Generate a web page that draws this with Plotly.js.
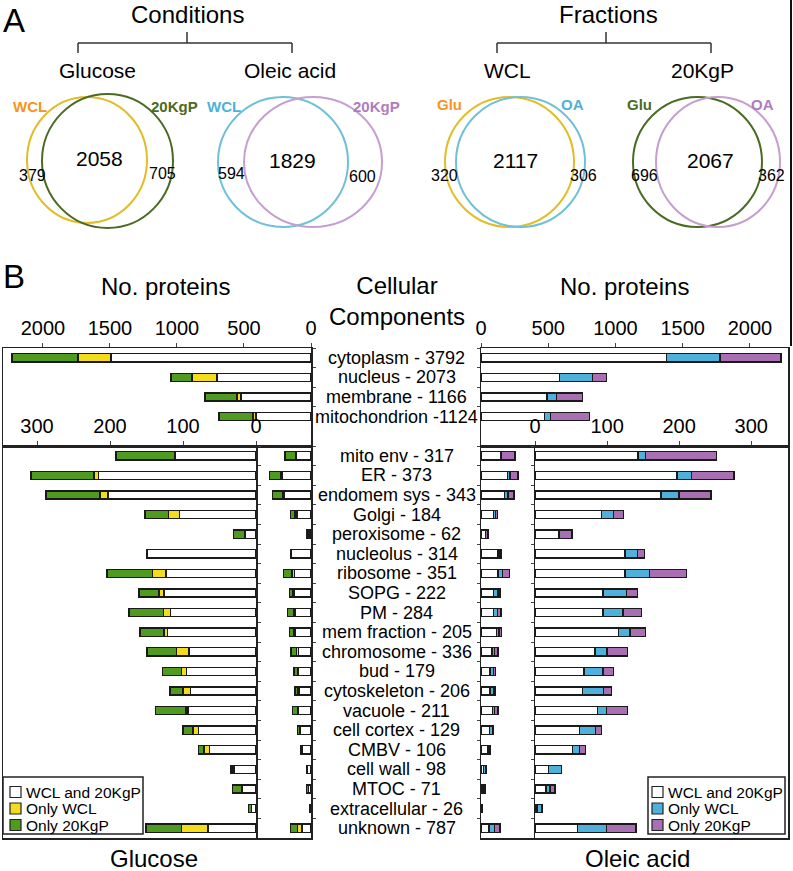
<!DOCTYPE html>
<html><head><meta charset="utf-8">
<script src="https://cdn.plot.ly/plotly-3.0.1.min.js"></script>
<style>html,body{margin:0;padding:0;background:#fff;overflow:hidden}#chart{width:793px;height:871px}</style>
</head><body><div id="chart"></div>
<script>
// ---------- data ----------
const vennTitles = ['Glucose', 'Oleic acid', 'WCL', '20KgP'];
const vennSetA = ['WCL', 'WCL', 'Glu', 'Glu'];
const vennSetB = ['20KgP', '20KgP', 'OA', 'OA'];
const vennBoth = [2058, 1829, 2117, 2067];
const vennOnlyA = [379, 594, 320, 696];
const vennOnlyB = [705, 600, 306, 362];

const topCats = ['cytoplasm - 3792', 'nucleus - 2073', 'membrane - 1166', 'mitochondrion -1124'];
const glcTopBoth = [1493, 702, 522, 410];
const glcTopWCL = [246, 187, 30, 22];
const glcTop20K = [493, 157, 239, 254];
const oaTopBoth = [1378, 585, 489, 474];
const oaTopWCL = [400, 244, 74, 44];
const oaTop20K = [452, 104, 193, 289];

const botCats = ['mito env - 317', 'ER - 373', 'endomem sys - 343', 'Golgi - 184', 'peroxisome - 62',
  'nucleolus - 314', 'ribosome - 351', 'SOPG - 222', 'PM - 284', 'mem fraction - 205',
  'chromosome - 336', 'bud - 179', 'cytoskeleton - 206', 'vacuole - 211', 'cell cortex - 129',
  'CMBV - 106', 'cell wall - 98', 'MTOC - 71', 'extracellular - 26', 'unknown - 787'];
const glcBoth = [110, 216, 203, 105, 15, 149, 123, 126, 117, 121, 92, 95, 90, 93, 79, 64, 30, 19, 6, 66];
const glcWCL  = [1, 6, 11, 15, 0, 0, 19, 7, 10, 5, 17, 7, 10, 3, 7, 7, 3, 0, 0, 36];
const glc20K  = [81, 86, 74, 32, 16, 0, 62, 27, 47, 33, 40, 26, 18, 42, 14, 8, 2, 13, 4, 49];
const oaBoth  = [143, 197, 175, 92, 33, 125, 125, 94, 94, 116, 83, 68, 66, 87, 62, 52, 19, 15, 3, 59];
const oaWCL   = [10, 20, 25, 17, 0, 17, 34, 33, 28, 16, 17, 26, 29, 12, 22, 10, 18, 6, 7, 40];
const oa20K   = [99, 59, 44, 14, 18, 10, 51, 15, 26, 21, 28, 15, 11, 29, 8, 8, 0, 7, 0, 41];

const seriesNames = ['WCL and 20KgP', 'Only WCL', 'Only 20KgP'];

// ---------- helpers ----------
const W = 793, H = 871;
const px = x => x / W;
const py = y => 1 - y / H;
const FONT = 'Arial, "Liberation Sans", Helvetica, sans-serif';
const C = {white: '#ffffff', yellow: '#f2dc1c', green: '#4f9a1f', blue: '#4fb0dc', purple: '#a96fb3',
  vYellow: '#e2bd26', vOrange: '#f7941d', vDark: '#4b6a22', vBlue: '#6fc0d8', vBlueT: '#4db2d8', vLilac: '#c49fd0', vLilacT: '#b07cc0'};

function bar(x, y, name, color, xa, ya) {
  return {type: 'bar', orientation: 'h', x: x, y: y, name: name, xaxis: xa, yaxis: ya,
    width: 0.42, marker: {color: color, line: {color: '#1a1a1a', width: 1.5}},
    showlegend: false, hoverinfo: 'skip'};
}

const glcCols = [C.white, C.yellow, C.green];
const oaCols = [C.white, C.blue, C.purple];
const glcTop = [glcTopBoth, glcTopWCL, glcTop20K];
const oaTop = [oaTopBoth, oaTopWCL, oaTop20K];
const glcBot = [glcBoth, glcWCL, glc20K];
const oaBot = [oaBoth, oaWCL, oa20K];

const data = [];
for (let k = 0; k < 3; k++) {
  data.push(bar(glcTop[k], topCats, seriesNames[k], glcCols[k], 'x', 'y'));
  data.push(bar(glcBot[k], botCats, seriesNames[k], glcCols[k], 'x2', 'y2'));
  data.push(bar(glcBot[k], botCats, seriesNames[k], glcCols[k], 'x3', 'y3'));
  data.push(bar(oaTop[k], topCats, seriesNames[k], oaCols[k], 'x4', 'y4'));
  data.push(bar(oaBot[k], botCats, seriesNames[k], oaCols[k], 'x5', 'y5'));
  data.push(bar(oaBot[k], botCats, seriesNames[k], oaCols[k], 'x6', 'y6'));
}

const common = {showgrid: false, zeroline: false, linecolor: '#222', linewidth: 1.5, tickcolor: '#444',
  tickfont: {size: 20, color: '#000', family: FONT}, fixedrange: true};
const topY = [py(446), py(348)];
const botY = [py(838), py(446)];
const catY = (cats, n) => Object.assign({}, common, {type: 'category', categoryarray: cats, categoryorder: 'array',
  range: [n - 0.5, -0.5], showticklabels: false, ticks: 'outside', ticklen: 3, tickson: 'boundaries', showline: true});

const layout = {
  width: W, height: H, margin: {l: 0, r: 0, t: 0, b: 0}, paper_bgcolor: '#fff', plot_bgcolor: 'rgba(0,0,0,0)',
  font: {family: FONT, color: '#000'}, barmode: 'stack', showlegend: false,
  xaxis: Object.assign({}, common, {domain: [px(3), px(311)], range: [2298, 0], side: 'top', anchor: 'y',
    tickvals: [0, 500, 1000, 1500, 2000], ticks: 'outside', ticklen: 4, showline: true, mirror: true}),
  yaxis: Object.assign(catY(topCats, 5), {domain: topY, anchor: 'x', side: 'right', mirror: true}),
  xaxis2: Object.assign({}, common, {domain: [px(3), px(256)], range: [346.6, 0], side: 'top', anchor: 'y2',
    tickvals: [0, 100, 200, 300], ticks: 'outside', ticklen: 4, showline: true, mirror: true}),
  yaxis2: Object.assign(catY(botCats, 20), {domain: botY, anchor: 'x2', side: 'right', mirror: true}),
  xaxis3: Object.assign({}, common, {domain: [px(256), px(311)], range: [410, 0], anchor: 'y3',
    showticklabels: false, ticks: '', showline: true, mirror: true}),
  yaxis3: Object.assign(catY(botCats, 20), {domain: botY, anchor: 'x3', side: 'right'}),
  xaxis4: Object.assign({}, common, {domain: [px(481), px(788)], range: [0, 2283], side: 'top', anchor: 'y4',
    tickvals: [0, 500, 1000, 1500, 2000], ticks: 'outside', ticklen: 4, showline: true, mirror: true}),
  yaxis4: Object.assign(catY(topCats, 5), {domain: topY, anchor: 'x4', side: 'left', mirror: true}),
  xaxis5: Object.assign({}, common, {domain: [px(535), px(788)], range: [0, 351], side: 'top', anchor: 'y5',
    tickvals: [0, 100, 200, 300], ticks: 'outside', ticklen: 4, showline: true, mirror: true}),
  yaxis5: Object.assign(catY(botCats, 20), {domain: botY, anchor: 'x5', side: 'left', mirror: true}),
  xaxis6: Object.assign({}, common, {domain: [px(481), px(535)], range: [0, 401], anchor: 'y6',
    showticklabels: false, ticks: '', showline: true, mirror: true}),
  yaxis6: Object.assign(catY(botCats, 20), {domain: botY, anchor: 'x6', side: 'left'}),
  shapes: [], annotations: []
};

function ann(text, x, y, size, extra) {
  layout.annotations.push(Object.assign({text: text, x: px(x), y: py(y), xref: 'paper', yref: 'paper',
    showarrow: false, xanchor: 'center', yanchor: 'middle', font: {size: size, family: FONT, color: '#000'}}, extra || {}));
}
function line(x0, y0, x1, y1, color, w) {
  layout.shapes.push({type: 'line', xref: 'paper', yref: 'paper', x0: px(x0), y0: py(y0), x1: px(x1), y1: py(y1),
    line: {color: color || '#333', width: w || 1.5}});
}
function rect(x0, y0, x1, y1, fill, lc, lw) {
  layout.shapes.push({type: 'rect', xref: 'paper', yref: 'paper', x0: px(x0), y0: py(y1), x1: px(x1), y1: py(y0),
    fillcolor: fill, line: {color: lc || '#222', width: lw || 1.5}, layer: 'above'});
}
function ellipse(x0, y0, x1, y1, color) {
  layout.shapes.push({type: 'circle', xref: 'paper', yref: 'paper', x0: px(x0), y0: py(y1), x1: px(x1), y1: py(y0),
    line: {color: color, width: 2}, fillcolor: 'rgba(0,0,0,0)'});
}

// panel letters & headers
ann('A', 14, 20, 33);
ann('B', 14, 277, 33);
ann('Conditions', 187, 14, 24);
ann('Fractions', 608, 14, 24);
[[78, 292, 187], [497, 711, 606]].forEach(b => {
  line(b[0], 43, b[1], 43); line(b[0], 43, b[0], 53); line(b[1], 43, b[1], 53); line(b[2], 32, b[2], 43);
});
line(791, 0, 791, 346, '#111', 2);

const vennGeo = [
  {tx: 97, a: [27, 97, 147, 223], b: [42, 94, 173, 228], ca: C.vYellow, cb: C.vDark, la: [30, 107], lb: [174, 107], lca: C.vOrange, lcb: C.vDark, n: [99, 158], na: [32, 176], nb: [162, 173]},
  {tx: 290, a: [218, 97, 348, 227], b: [244, 97, 382, 227], ca: C.vBlue, cb: C.vLilac, la: [224, 107], lb: [376, 107], lca: C.vBlueT, lcb: C.vLilacT, n: [292, 160], na: [232, 173], nb: [362, 177]},
  {tx: 507, a: [445, 97, 574, 227], b: [456, 97, 585, 227], ca: C.vYellow, cb: C.vBlue, la: [449, 105], lb: [572, 105], lca: C.vOrange, lcb: C.vBlueT, n: [515, 160], na: [445, 176], nb: [583, 176]},
  {tx: 702, a: [633, 97, 762, 227], b: [656, 97, 780, 227], ca: C.vDark, cb: C.vLilac, la: [639, 105], lb: [762, 105], lca: C.vDark, lcb: C.vLilacT, n: [710, 160], na: [644, 176], nb: [771, 176]}
];
vennGeo.forEach((g, i) => {
  ann(vennTitles[i], g.tx, 70, 21);
  ellipse(g.a[0], g.a[1], g.a[2], g.a[3], g.ca);
  ellipse(g.b[0], g.b[1], g.b[2], g.b[3], g.cb);
  ann('<b>' + vennSetA[i] + '</b>', g.la[0], g.la[1], 15, {font: {size: 15, family: FONT, color: g.lca}});
  ann('<b>' + vennSetB[i] + '</b>', g.lb[0], g.lb[1], 15, {font: {size: 15, family: FONT, color: g.lcb}});
  ann(String(vennBoth[i]), g.n[0], g.n[1], 21);
  ann(String(vennOnlyA[i]), g.na[0], g.na[1], 16);
  ann(String(vennOnlyB[i]), g.nb[0], g.nb[1], 16);
});

// panel B titles
ann('No. proteins', 165, 287, 24);
ann('No. proteins', 624, 287, 24);
ann('Cellular<br>Components', 397, 301, 24);
ann('Glucose', 154, 858, 24);
ann('Oleic acid', 637, 858, 24);

// center category labels
topCats.forEach((c, i) => layout.annotations.push({text: c, x: 0.5, xref: 'paper', y: i, yref: 'y4', showarrow: false,
  xanchor: 'center', yanchor: 'middle', font: {size: 18, family: FONT, color: '#000'}}));
botCats.forEach((c, i) => layout.annotations.push({text: c, x: 0.5, xref: 'paper', y: i, yref: 'y5', showarrow: false,
  xanchor: 'center', yanchor: 'middle', font: {size: 18, family: FONT, color: '#000'}}));

// legends (boxes with swatches)
function legendBox(x0, x1, sw, tx, cols) {
  rect(x0, 777, x1, 834, '#fff', '#222', 1.5);
  [792, 808.5, 825].forEach((yy, k) => {
    rect(sw, yy - 5.5, sw + 11, yy + 5.5, cols[k], '#222', 1.2);
    ann(seriesNames[k], tx, yy, 15.5, {xanchor: 'left'});
  });
}
legendBox(3, 143, 10, 24, glcCols);
legendBox(648, 785, 652, 666, oaCols);

Plotly.newPlot('chart', data, layout, {staticPlot: true, displayModeBar: false});
</script></body></html>
